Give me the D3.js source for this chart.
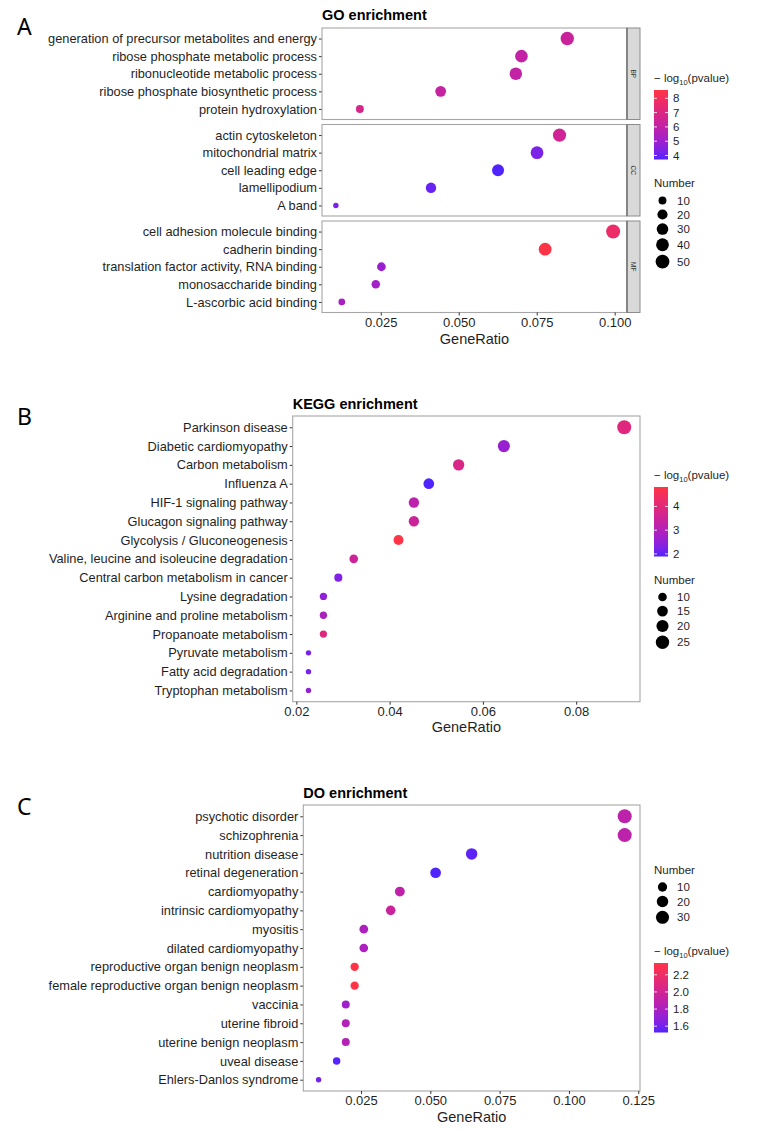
<!DOCTYPE html>
<html>
<head>
<meta charset="utf-8">
<script src="https://cdn.jsdelivr.net/npm/d3@7"></script>
<style>
  body { margin: 0; background: #fff; }
  svg { font-family: "Liberation Sans", Arial, sans-serif; }
</style>
</head>
<body>
<svg width="760" height="1130"></svg>
<script>
// GO enrichment
const goTerms = [
  "generation of precursor metabolites and energy",
  "ribose phosphate metabolic process",
  "ribonucleotide metabolic process",
  "ribose phosphate biosynthetic process",
  "protein hydroxylation",
  "actin cytoskeleton",
  "mitochondrial matrix",
  "cell leading edge",
  "lamellipodium",
  "A band",
  "cell adhesion molecule binding",
  "cadherin binding",
  "translation factor activity, RNA binding",
  "monosaccharide binding",
  "L-ascorbic acid binding",
];
const goOntology = ["BP", "BP", "BP", "BP", "BP", "CC", "CC", "CC", "CC", "CC", "MF", "MF", "MF", "MF", "MF"];
const goRatio = [0.0848, 0.0701, 0.0683, 0.0442, 0.0183, 0.0823, 0.0751, 0.0626, 0.0411, 0.0106, 0.0995, 0.0777, 0.0252, 0.0234, 0.0125];
const goCount = [46, 38, 37, 24, 10, 44, 40, 33, 22, 6, 52, 40, 13, 12, 7];
const goLogP = [6.3, 6.1, 6.1, 6.2, 6.8, 6.5, 4.3, 3.72, 4.0, 4.3, 7.7, 8.58, 4.9, 5.2, 5.3];
const goTicks = [0.025, 0.05, 0.075, 0.1];
const goSizeBreaks = [10, 20, 30, 40, 50];
const goColorBreaks = [4, 5, 6, 7, 8];

// KEGG enrichment
const keggTerms = [
  "Parkinson disease",
  "Diabetic cardiomyopathy",
  "Carbon metabolism",
  "Influenza A",
  "HIF-1 signaling pathway",
  "Glucagon signaling pathway",
  "Glycolysis / Gluconeogenesis",
  "Valine, leucine and isoleucine degradation",
  "Central carbon metabolism in cancer",
  "Lysine degradation",
  "Arginine and proline metabolism",
  "Propanoate metabolism",
  "Pyruvate metabolism",
  "Fatty acid degradation",
  "Tryptophan metabolism",
];
const keggRatio = [0.0903, 0.0645, 0.0548, 0.0484, 0.0452, 0.0452, 0.0419, 0.0323, 0.029, 0.0258, 0.0258, 0.0258, 0.0226, 0.0226, 0.0226];
const keggCount = [28, 20, 17, 15, 14, 14, 13, 10, 9, 8, 8, 8, 7, 7, 7];
const keggLogP = [3.95, 2.6, 3.8, 1.89, 3.2, 3.5, 4.82, 3.5, 2.3, 2.5, 2.9, 3.9, 2.2, 2.2, 2.5];
const keggTicks = [0.02, 0.04, 0.06, 0.08];
const keggSizeBreaks = [10, 15, 20, 25];
const keggColorBreaks = [2, 3, 4];

// DO enrichment
const doTerms = [
  "psychotic disorder",
  "schizophrenia",
  "nutrition disease",
  "retinal degeneration",
  "cardiomyopathy",
  "intrinsic cardiomyopathy",
  "myositis",
  "dilated cardiomyopathy",
  "reproductive organ benign neoplasm",
  "female reproductive organ benign neoplasm",
  "vaccinia",
  "uterine fibroid",
  "uterine benign neoplasm",
  "uveal disease",
  "Ehlers-Danlos syndrome",
];
const doRatio = [0.1201, 0.1201, 0.0649, 0.0519, 0.039, 0.0357, 0.026, 0.026, 0.0227, 0.0227, 0.0195, 0.0195, 0.0195, 0.0162, 0.0097];
const doCount = [37, 37, 20, 16, 12, 11, 8, 8, 7, 7, 6, 6, 6, 5, 3];
const doLogP = [1.89, 1.89, 1.55, 1.526, 1.9, 1.97, 1.81, 1.81, 2.338, 2.338, 1.75, 1.84, 1.84, 1.54, 1.6];
const doTicks = [0.025, 0.05, 0.075, 0.1, 0.125];
const doSizeBreaks = [10, 20, 30];
const doColorBreaks = [1.6, 1.8, 2.0, 2.2];

const LOW = "#4f24ff";
const HIGH = "#ff3446";
const BORDER = "#a6a6a6";
const TEXT = "#1f1f1f";
const LEGEND_FONT = 11.5;

const svg = d3.select("svg");

// ggplot-like area scale: radius grows with sqrt of the rescaled value
function sizeScale(counts) {
  const t = d3.scaleLinear().domain(d3.extent(counts)).range([0, 1]);
  const s = d3.scaleSqrt().domain([0, 1]).range([2.7, 7]);
  return (v) => s(t(v));
}

function colorScale(logp) {
  return d3
    .scaleLinear()
    .domain(d3.extent(logp))
    .range([LOW, HIGH])
    .interpolate(d3.interpolateLab);
}

function legendTitle(g, x, y) {
  const t = g
    .append("text")
    .attr("x", x)
    .attr("y", y)
    .attr("font-size", LEGEND_FONT)
    .attr("fill", TEXT);
  t.append("tspan").text("\u2212 log");
  t.append("tspan").attr("font-size", 7.5).attr("dy", 3).text("10");
  t.append("tspan").attr("dy", -3).text("(pvalue)");
}

function colorLegend(g, color, breaks, id, lx, ty) {
  legendTitle(g, lx, ty);
  const top = ty + 8;
  const h = 69.5;
  const w = 14;
  const dom = color.domain();
  const v = d3.scaleLinear().domain(dom).range([top + h, top]);

  const grad = svg
    .append("defs")
    .append("linearGradient")
    .attr("id", id)
    .attr("x1", 0)
    .attr("y1", 1)
    .attr("x2", 0)
    .attr("y2", 0);
  d3.range(0, 1.0001, 0.1).forEach((s) => {
    grad
      .append("stop")
      .attr("offset", s)
      .attr("stop-color", color(dom[0] + s * (dom[1] - dom[0])));
  });

  g.append("rect")
    .attr("x", lx)
    .attr("y", top)
    .attr("width", w)
    .attr("height", h)
    .attr("fill", `url(#${id})`);

  const allInt = breaks.every(Number.isInteger);
  breaks.forEach((b) => {
    const y = v(b);
    g.append("line")
      .attr("x1", lx).attr("x2", lx + 3)
      .attr("y1", y).attr("y2", y)
      .attr("stroke", "#fff").attr("stroke-width", 0.8);
    g.append("line")
      .attr("x1", lx + w - 3).attr("x2", lx + w)
      .attr("y1", y).attr("y2", y)
      .attr("stroke", "#fff").attr("stroke-width", 0.8);
    g.append("text")
      .attr("x", lx + w + 5)
      .attr("y", y)
      .attr("dy", "0.35em")
      .attr("font-size", LEGEND_FONT)
      .attr("fill", TEXT)
      .text(allInt ? b : d3.format(".1f")(b));
  });
}

function sizeLegend(g, size, breaks, lx, ty) {
  g.append("text")
    .attr("x", lx)
    .attr("y", ty)
    .attr("font-size", LEGEND_FONT)
    .attr("fill", TEXT)
    .text("Number");
  const keyH = (b) => Math.max(14, 2 * size(b) + 3.5);
  let cy = ty + 13.5;
  breaks.forEach((b, i) => {
    if (i > 0) cy += (keyH(breaks[i - 1]) + keyH(b)) / 2;
    g.append("circle")
      .attr("cx", lx + 8.5)
      .attr("cy", cy)
      .attr("r", size(b))
      .attr("fill", "#000");
    g.append("text")
      .attr("x", lx + 23)
      .attr("y", cy)
      .attr("dy", "0.35em")
      .attr("font-size", LEGEND_FONT)
      .attr("fill", TEXT)
      .text(b);
  });
}

function drawPanel(p) {
  const g = svg.append("g");
  const ext = d3.extent(p.ratio);
  const pad = (ext[1] - ext[0]) * 0.05;
  const x = d3
    .scaleLinear()
    .domain([ext[0] - pad, ext[1] + pad])
    .range([p.x0, p.x1]);
  const color = colorScale(p.logp);
  const size = sizeScale(p.count);

  const rows = p.terms.map((t, i) => ({
    term: t,
    group: p.group ? p.group[i] : "",
    ratio: p.ratio[i],
    count: p.count[i],
    logp: p.logp[i],
  }));

  p.facets.forEach((f) => {
    const sub = rows.filter((d) => d.group === f.key);
    const y = d3
      .scalePoint()
      .domain(sub.map((d) => d.term))
      .range([f.y0, f.y1])
      .padding(0.6);

    g.append("rect")
      .attr("x", p.x0)
      .attr("y", f.y0)
      .attr("width", p.x1 - p.x0)
      .attr("height", f.y1 - f.y0)
      .attr("fill", "#fff");

    const ya = g
      .append("g")
      .attr("transform", `translate(${p.x0},0)`)
      .call(d3.axisLeft(y).tickSize(3).tickPadding(2));
    ya.select(".domain").remove();
    ya.selectAll("line").attr("stroke", "#333");
    ya.selectAll("text")
      .attr("font-size", 12.8)
      .attr("fill", TEXT)
      .attr("font-family", "Liberation Sans, Arial, sans-serif");

    g.append("g")
      .selectAll("circle")
      .data(sub)
      .join("circle")
      .attr("cx", (d) => x(d.ratio))
      .attr("cy", (d) => y(d.term))
      .attr("r", (d) => size(d.count))
      .attr("fill", (d) => color(d.logp));

    g.append("rect")
      .attr("x", p.x0)
      .attr("y", f.y0)
      .attr("width", p.x1 - p.x0)
      .attr("height", f.y1 - f.y0)
      .attr("fill", "none")
      .attr("stroke", BORDER)
      .attr("stroke-width", 1.1);

    if (f.key) {
      g.append("rect")
        .attr("x", p.x1)
        .attr("y", f.y0)
        .attr("width", 13)
        .attr("height", f.y1 - f.y0)
        .attr("fill", "#d9d9d9")
        .attr("stroke", "#8c8c8c")
        .attr("stroke-width", 1);
      g.append("line")
        .attr("x1", p.x1).attr("x2", p.x1)
        .attr("y1", f.y0).attr("y2", f.y1)
        .attr("stroke", "#6e6e6e")
        .attr("stroke-width", 1.3);
      const cx = p.x1 + 6.5;
      const cy = (f.y0 + f.y1) / 2;
      g.append("text")
        .attr("transform", `translate(${cx},${cy}) rotate(90)`)
        .attr("text-anchor", "middle")
        .attr("dy", "0.35em")
        .attr("font-size", 6.5)
        .attr("fill", "#333")
        .text(f.key);
    }
  });

  const bottom = p.facets[p.facets.length - 1].y1;
  const xa = g
    .append("g")
    .attr("transform", `translate(0,${bottom})`)
    .call(
      d3
        .axisBottom(x)
        .tickValues(p.ticks)
        .tickFormat(d3.format(p.fmt))
        .tickSize(3)
        .tickPadding(2)
    );
  xa.select(".domain").remove();
  xa.selectAll("line").attr("stroke", "#333");
  xa.selectAll("text")
    .attr("font-size", 13)
    .attr("fill", TEXT)
    .attr("font-family", "Liberation Sans, Arial, sans-serif");

  g.append("text")
    .attr("x", (p.x0 + p.x1) / 2)
    .attr("y", p.axisTitleY)
    .attr("text-anchor", "middle")
    .attr("font-size", 14.5)
    .attr("fill", TEXT)
    .text("GeneRatio");

  g.append("text")
    .attr("x", p.x0)
    .attr("y", p.titleY)
    .attr("font-size", 14.5)
    .attr("font-weight", "bold")
    .attr("fill", "#000")
    .text(p.title);

  g.append("text")
    .attr("x", 17)
    .attr("y", p.letterY)
    .attr("font-family", "Noto Sans, sans-serif")
    .attr("font-size", 23)
    .attr("fill", "#000")
    .text(p.letter);

  colorLegend(g, color, p.colorBreaks, p.id, 654, p.colorTitleY);
  sizeLegend(g, size, p.sizeBreaks, 654, p.sizeTitleY);
}

drawPanel({
  id: "gradGO",
  letter: "A",
  letterY: 35,
  title: "GO enrichment",
  titleY: 20,
  terms: goTerms,
  group: goOntology,
  ratio: goRatio,
  count: goCount,
  logp: goLogP,
  ticks: goTicks,
  fmt: ".3f",
  sizeBreaks: goSizeBreaks,
  colorBreaks: goColorBreaks,
  x0: 322,
  x1: 627,
  facets: [
    { key: "BP", y0: 28, y1: 119.5 },
    { key: "CC", y0: 124.5, y1: 216 },
    { key: "MF", y0: 221, y1: 312.5 },
  ],
  axisTitleY: 344,
  colorTitleY: 82,
  sizeTitleY: 187,
});

drawPanel({
  id: "gradKEGG",
  letter: "B",
  letterY: 425,
  title: "KEGG enrichment",
  titleY: 409,
  terms: keggTerms,
  ratio: keggRatio,
  count: keggCount,
  logp: keggLogP,
  ticks: keggTicks,
  fmt: ".2f",
  sizeBreaks: keggSizeBreaks,
  colorBreaks: keggColorBreaks,
  x0: 292.7,
  x1: 640,
  facets: [{ key: "", y0: 416, y1: 701.7 }],
  axisTitleY: 732,
  colorTitleY: 479,
  sizeTitleY: 583.5,
});

drawPanel({
  id: "gradDO",
  letter: "C",
  letterY: 815,
  title: "DO enrichment",
  titleY: 798,
  terms: doTerms,
  ratio: doRatio,
  count: doCount,
  logp: doLogP,
  ticks: doTicks,
  fmt: ".3f",
  sizeBreaks: doSizeBreaks,
  colorBreaks: doColorBreaks,
  x0: 303.3,
  x1: 640,
  facets: [{ key: "", y0: 805, y1: 1091 }],
  axisTitleY: 1122,
  colorTitleY: 955,
  sizeTitleY: 873.5,
});
</script>
</body>
</html>
